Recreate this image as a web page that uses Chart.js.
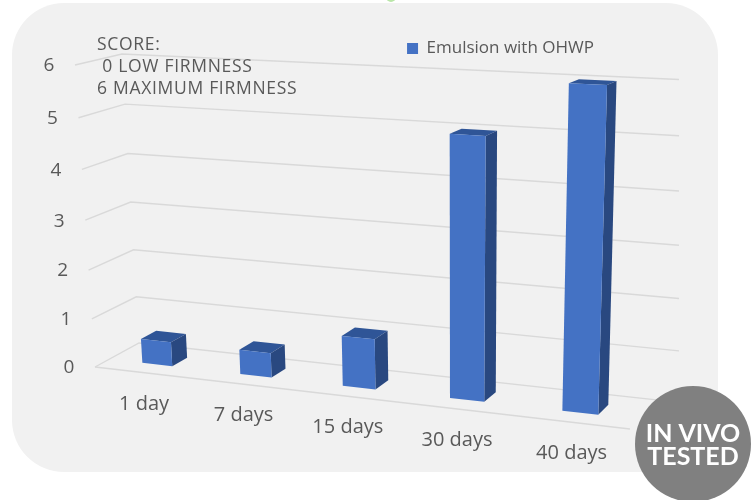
<!DOCTYPE html>
<html>
<head>
<meta charset="utf-8">
<title>Firmness score</title>
<style>
    html, body { margin: 0; padding: 0; background: #fff; }
    canvas { display: block; }
</style>
<script src="https://cdn.jsdelivr.net/npm/chart.js@4"></script>
</head>
<body>
<canvas id="chart" width="751" height="500"></canvas>
<script>
const categories = ["1 day", "7 days", "15 days", "30 days", "40 days"];
const firmness = [0.5, 0.5, 1, 5, 6];
const seriesName = "Emulsion with OHWP";
const scoreNote = ["SCORE:", " 0 LOW FIRMNESS", "6 MAXIMUM FIRMNESS"];
const badgeText = ["IN VIVO", "TESTED"];

const TEXT = "#595959";
const GRID = "#d9d9d9";
const FONT = '"Open Sans", sans-serif';
const BAR_FRONT = "#4472c4";
const BAR_SIDE = "#294880";
const BAR_TOP = "#2f5597";
const BAR_DEPTH = [0.33, 0.68];
const GRID_END_X = 679;

// corners of the 3d box on screen: bottom left, bottom right, top right, top left
const frontPlane = quadMap([95, 367], [630, 429], [642, 91], [75, 65]);
const backPlane = quadMap([139, 343], [657, 400], [667, 79], [122, 54]);

// unit square to quad, perspective version
function quadMap(p0, p1, p2, p3) {
    const dx1 = p1[0] - p2[0], dx2 = p3[0] - p2[0], sx = p0[0] - p1[0] + p2[0] - p3[0];
    const dy1 = p1[1] - p2[1], dy2 = p3[1] - p2[1], sy = p0[1] - p1[1] + p2[1] - p3[1];
    const den = dx1 * dy2 - dx2 * dy1;
    const g = (sx * dy2 - dx2 * sy) / den;
    const h = (dx1 * sy - sx * dy1) / den;
    const a = p1[0] - p0[0] + g * p1[0], b = p3[0] - p0[0] + h * p3[0];
    const d = p1[1] - p0[1] + g * p1[1], e = p3[1] - p0[1] + h * p3[1];
    return (u, v) => {
        const q = g * u + h * v + 1;
        return [(a * u + b * v + p0[0]) / q, (d * u + e * v + p0[1]) / q];
    };
}

// chart pixel + depth (0 front, 1 back) to screen pixel
function project(chart, px, py, depth) {
    const area = chart.chartArea;
    const u = (px - area.left) / (area.right - area.left);
    const v = (area.bottom - py) / (area.bottom - area.top);
    const f = frontPlane(u, v);
    const b = backPlane(u, v);
    return [f[0] + (b[0] - f[0]) * depth, f[1] + (b[1] - f[1]) * depth];
}

function fillPoly(ctx, points, color) {
    ctx.beginPath();
    points.forEach((p, i) => (i ? ctx.lineTo(p[0], p[1]) : ctx.moveTo(p[0], p[1])));
    ctx.closePath();
    ctx.fillStyle = color;
    ctx.fill();
}

function strokeLine(ctx, points) {
    ctx.beginPath();
    points.forEach((p, i) => (i ? ctx.lineTo(p[0], p[1]) : ctx.moveTo(p[0], p[1])));
    ctx.stroke();
}

const panelPlugin = {
    id: "panel",
    beforeDraw(chart) {
        const ctx = chart.ctx;
        ctx.save();
        ctx.fillStyle = "#b9e6a8";
        ctx.beginPath();
        ctx.arc(391, -3, 5, 0, Math.PI * 2);
        ctx.fill();
        ctx.fillStyle = "#f1f1f1";
        ctx.beginPath();
        ctx.roundRect(12, 3, 706, 469, 52);
        ctx.fill();
        ctx.restore();
    },
    afterDraw(chart) {
        const ctx = chart.ctx;
        ctx.save();
        ctx.fillStyle = "#808080";
        ctx.beginPath();
        ctx.arc(693, 444, 58, 0, Math.PI * 2);
        ctx.fill();
        ctx.fillStyle = "#fff";
        ctx.font = "bold 25px Lato, sans-serif";
        ctx.textAlign = "center";
        ctx.textBaseline = "middle";
        ctx.fillText(badgeText[0], 693, 434);
        ctx.fillText(badgeText[1], 693, 457);
        ctx.font = "17.5px " + FONT;
        ctx.letterSpacing = "0.7px";
        ctx.fillStyle = TEXT;
        ctx.textAlign = "left";
        scoreNote.forEach((line, i) => ctx.fillText(line, 97, 45 + i * 22));
        ctx.restore();
    },
};

const box3dPlugin = {
    id: "box3d",
    beforeDatasetsDraw(chart) {
        const ctx = chart.ctx;
        const x = chart.scales.x;
        const y = chart.scales.y;
        ctx.save();
        ctx.strokeStyle = GRID;
        ctx.lineWidth = 1.4;
        ctx.font = "19px " + FONT;
        ctx.fillStyle = TEXT;
        ctx.textAlign = "center";
        ctx.textBaseline = "middle";
        y.ticks.forEach((tick) => {
            const py = y.getPixelForValue(tick.value);
            const start = project(chart, x.left, py, 0);
            const corner = project(chart, x.left, py, 1);
            const right = project(chart, x.right, py, 1);
            // the back lines all stop on one vertical
            const slope = (right[1] - corner[1]) / (right[0] - corner[0]);
            const end = [GRID_END_X, corner[1] + slope * (GRID_END_X - corner[0])];
            strokeLine(ctx, [start, corner, end]);
            ctx.fillText(tick.label, start[0] - 26, start[1] + 1);
        });
        strokeLine(ctx, [project(chart, x.left, y.bottom, 0), project(chart, x.right, y.bottom, 0)]);
        ctx.font = "20px " + FONT;
        x.ticks.forEach((tick, i) => {
            const p = project(chart, x.getPixelForTick(i), y.bottom, 0);
            ctx.fillText(tick.label, p[0] + 1, p[1] + 31.5);
        });
        ctx.restore();
    },
    beforeDatasetDraw(chart, args) {
        const ctx = chart.ctx;
        args.meta.data.forEach((bar) => {
            const p = bar.getProps(["x", "y", "base", "width"], true);
            const l = p.x - p.width / 2;
            const r = p.x + p.width / 2;
            const fl = project(chart, l, p.y, BAR_DEPTH[0]);
            const fr = project(chart, r, p.y, BAR_DEPTH[0]);
            const fbl = project(chart, l, p.base, BAR_DEPTH[0]);
            const fbr = project(chart, r, p.base, BAR_DEPTH[0]);
            const bl = project(chart, l, p.y, BAR_DEPTH[1]);
            const br = project(chart, r, p.y, BAR_DEPTH[1]);
            const bbr = project(chart, r, p.base, BAR_DEPTH[1]);
            fillPoly(ctx, [fl, fr, br, bl], BAR_TOP);
            fillPoly(ctx, [fr, fbr, bbr, br], BAR_SIDE);
            fillPoly(ctx, [fl, fr, fbr, fbl], BAR_FRONT);
        });
        return false;
    },
};

new Chart(document.getElementById("chart"), {
    type: "bar",
    data: {
        labels: categories,
        datasets: [{
            label: seriesName,
            data: firmness,
            backgroundColor: BAR_FRONT,
            barPercentage: 0.31,
            categoryPercentage: 1,
        }],
    },
    options: {
        responsive: false,
        animation: false,
        layout: { padding: { left: 250, top: 30 } },
        scales: {
            x: { display: false },
            y: { display: false, min: 0, max: 6, ticks: { stepSize: 1 } },
        },
        plugins: {
            tooltip: { enabled: false },
            legend: {
                position: "top",
                labels: {
                    boxWidth: 11,
                    boxHeight: 11,
                    color: TEXT,
                    font: { family: FONT, size: 17 },
                },
            },
        },
    },
    plugins: [panelPlugin, box3dPlugin],
});
</script>
</body>
</html>
